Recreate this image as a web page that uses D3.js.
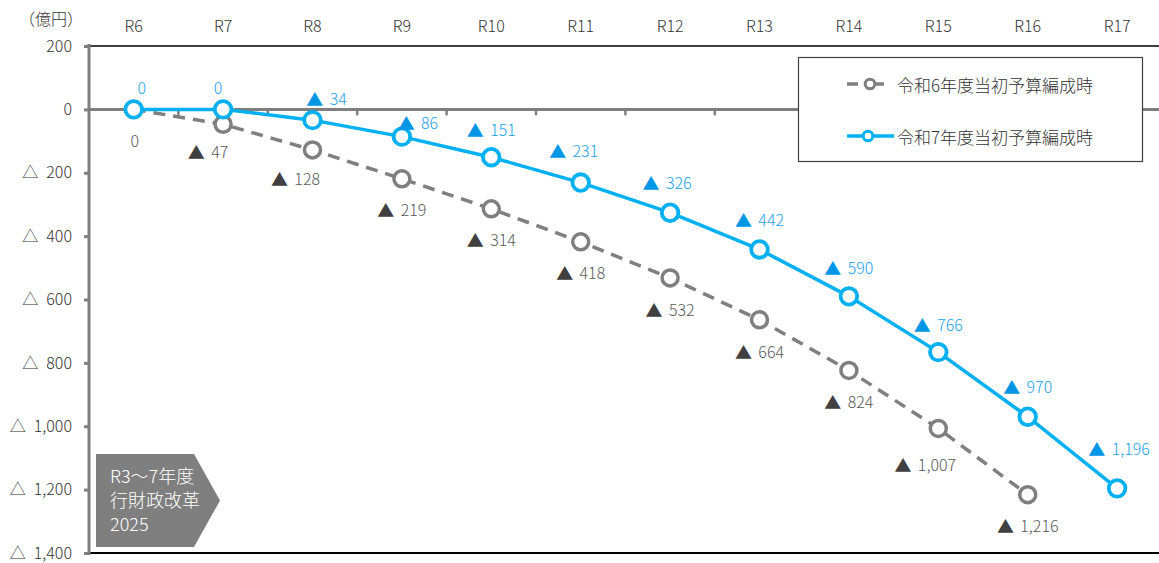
<!DOCTYPE html>
<html><head><meta charset="utf-8">
<script src="https://cdn.jsdelivr.net/npm/d3@7/dist/d3.min.js"></script>
<style>
body{margin:0;background:#fff;}
text{font-family:"Noto Sans CJK JP","Noto Sans",sans-serif;font-weight:300;}
</style></head>
<body><svg id="c" width="1159" height="563"></svg>
<script>
const categories = ["R6","R7","R8","R9","R10","R11","R12","R13","R14","R15","R16","R17"];
const seriesR6 = [0,-47,-128,-219,-314,-418,-532,-664,-824,-1007,-1216];
const seriesR7 = [0,0,-34,-86,-151,-231,-326,-442,-590,-766,-970,-1196];
const yTicks = [200,0,-200,-400,-600,-800,-1000,-1200,-1400];
const legendLabels = ["令和6年度当初予算編成時","令和7年度当初予算編成時"];
const unitLabel = "（億円）";
const boxLines = ["R3～7年度","行財政改革","2025"];

const svg = d3.select("#c");
const W = 1159, H = 563;
const plotLeft = 89, plotTop = 46, plotBottom = 553;
const x = d3.scaleBand().domain(categories).range([plotLeft, plotLeft + 89.4*12]).paddingInner(0).paddingOuter(0);
const y = d3.scaleLinear().domain([-1400,200]).range([plotBottom, plotTop]);
const cx = c => x(c) + x.bandwidth()/2;
const fmt = d3.format(",");

const gray = "#7f7f7f", blue = "#00b0f0";
// label placement nudges (px, relative to each point)
const nudgeR6 = [[1,31],[-15,27],[-17,28],[0,30],[0,30],[0,30],[0,31],[0,31],[0,31],[-13,36],[0,30]];
const nudgeR7 = [[8,-22],[-5,-22],[14,-22],[16,-15],[0,-28],[-7,-33],[-3,-31],[0,-30],[0,-29],[0,-28],[0,-31],[2,-40]];

// top & bottom border
svg.append("line").attr("x1",plotLeft).attr("x2",W).attr("y1",plotTop).attr("y2",plotTop).attr("stroke","#000").attr("stroke-width",1.5);
svg.append("line").attr("x1",plotLeft).attr("x2",W).attr("y1",plotBottom).attr("y2",plotBottom).attr("stroke","#000").attr("stroke-width",2);

// zero line with category ticks
svg.append("line").attr("x1",plotLeft).attr("x2",W).attr("y1",y(0)).attr("y2",y(0)).attr("stroke",gray).attr("stroke-width",3);
const bounds = categories.map(c => x(c)).slice(1);
svg.selectAll(".ct").data(bounds).join("line")
  .attr("x1",d=>d).attr("x2",d=>d).attr("y1",y(0)).attr("y2",y(0)+6)
  .attr("stroke",gray).attr("stroke-width",2.5);

// left axis
const yAxis = d3.axisLeft(y).tickValues(yTicks).tickSize(5).tickPadding(12)
  .tickFormat(d => d < 0 ? "△\u2002" + fmt(-d) : fmt(d));
const ga = svg.append("g").attr("transform",`translate(${plotLeft},0)`).call(yAxis);
ga.select(".domain").attr("stroke",gray).attr("stroke-width",3).attr("d",`M0,${plotTop-2}V${plotBottom+2}`);
ga.selectAll(".tick line").attr("stroke",gray).attr("stroke-width",3);
ga.selectAll(".tick text").attr("fill","#333").style("font-size","16px").style("font-family","'Noto Sans CJK JP',sans-serif").style("font-weight","300");

// top category labels
svg.selectAll(".xl").data(categories).join("text")
  .attr("x",d=>cx(d)).attr("y",25).attr("text-anchor","middle").attr("dominant-baseline","central")
  .attr("fill","#333").style("font-size","16px").text(d=>d);
svg.append("text").attr("x",51).attr("y",18).attr("text-anchor","middle").attr("dominant-baseline","central")
  .attr("fill","#333").style("font-size","16px").text(unitLabel);

// legend
const lg = svg.append("g");
lg.append("rect").attr("x",798.5).attr("y",57.5).attr("width",344).attr("height",104)
  .attr("fill","#fff").attr("stroke","#404040").attr("stroke-width",1.2);
const ly = [84, 136];
lg.append("line").attr("x1",847).attr("x2",894).attr("y1",ly[0]).attr("y2",ly[0])
  .attr("stroke",gray).attr("stroke-width",3.5).attr("stroke-dasharray","11,15");
lg.append("circle").attr("cx",870).attr("cy",ly[0]).attr("r",4.8).attr("fill","#fff").attr("stroke",gray).attr("stroke-width",3);
lg.append("line").attr("x1",847).attr("x2",894).attr("y1",ly[1]).attr("y2",ly[1])
  .attr("stroke",blue).attr("stroke-width",3.5);
lg.append("circle").attr("cx",868).attr("cy",ly[1]).attr("r",4.8).attr("fill","#fff").attr("stroke",blue).attr("stroke-width",3);
lg.selectAll(".lt").data(legendLabels).join("text")
  .attr("x",897).attr("y",(d,i)=>ly[i]).attr("dominant-baseline","central")
  .attr("fill","#333").style("font-size","17px").text(d=>d);

// lines
const line = d3.line().x((d,i)=>cx(categories[i])).y(d=>y(d));
svg.append("path").datum(seriesR6).attr("d",line).attr("fill","none").attr("stroke",gray)
  .attr("stroke-width",3.5).attr("stroke-dasharray","12,8");
svg.append("path").datum(seriesR7).attr("d",line).attr("fill","none").attr("stroke",blue)
  .attr("stroke-width",3.5);

svg.selectAll(".m6").data(seriesR6).join("circle")
  .attr("cx",(d,i)=>cx(categories[i])).attr("cy",d=>y(d)).attr("r",8)
  .attr("fill","#fff").attr("stroke",gray).attr("stroke-width",3.5);
svg.selectAll(".m7").data(seriesR7).join("circle")
  .attr("cx",(d,i)=>cx(categories[i])).attr("cy",d=>y(d)).attr("r",8.3)
  .attr("fill","#fff").attr("stroke",blue).attr("stroke-width",3.8);

// data labels
function label(sel, v, triColor, txtColor){
  if (v === 0) { sel.append("tspan").attr("fill",txtColor).text("0"); return; }
  sel.append("tspan").attr("fill",triColor).style("font-size","17px").text("▲");
  sel.append("tspan").attr("fill",txtColor).text("\u2009\u2009" + fmt(-v));
}
seriesR6.forEach((v,i)=>{
  const t = svg.append("text").attr("x",cx(categories[i]) + nudgeR6[i][0]).attr("y",y(v)+nudgeR6[i][1])
    .attr("text-anchor","middle").attr("dominant-baseline","central").style("font-size","16px");
  label(t, v, "#404040", "#595959");
});
seriesR7.forEach((v,i)=>{
  const t = svg.append("text").attr("x",cx(categories[i]) + nudgeR7[i][0]).attr("y",y(v)+nudgeR7[i][1])
    .attr("text-anchor","middle").attr("dominant-baseline","central").style("font-size","16px");
  label(t, v, "#0096e6", "#22a0ea");
});

// bottom-left arrow box
const bx = 96, by = 454, bw = 98, bh = 93, tip = 26;
svg.append("path").attr("d",`M${bx},${by}H${bx+bw}L${bx+bw+tip},${by+bh/2}L${bx+bw},${by+bh}H${bx}Z`).attr("fill","#7f7f7f");
svg.selectAll(".bt").data(boxLines).join("text")
  .attr("x",110).attr("y",(d,i)=>475+i*24).attr("dominant-baseline","central")
  .attr("fill","#fff").style("font-size","18px").text(d=>d);
</script></body></html>
